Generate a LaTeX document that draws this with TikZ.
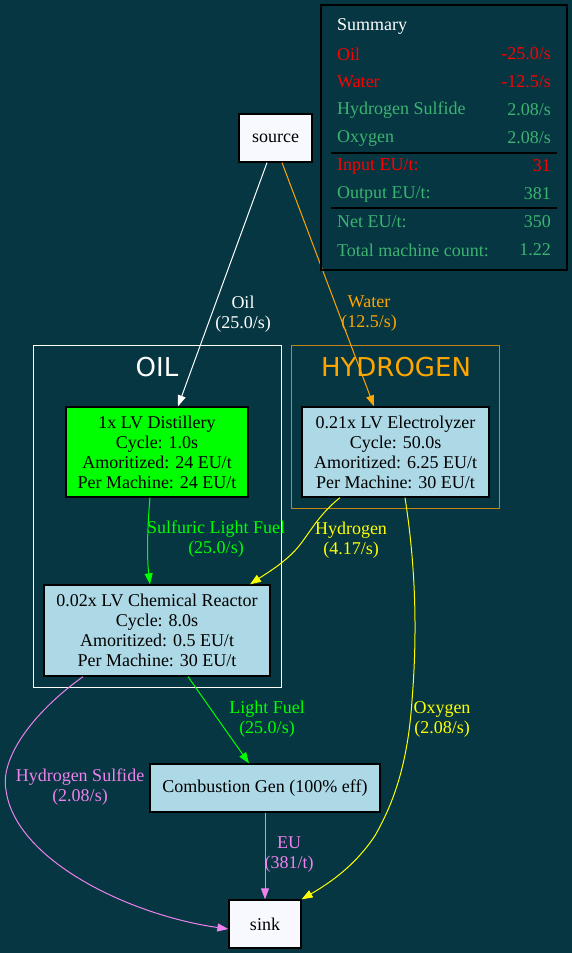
\documentclass[tikz,border=0pt]{standalone}
\usepackage{fontspec}
\setmainfont{Liberation Serif}
\newfontfamily\clusterfont{DejaVu Sans}
\usetikzlibrary{arrows.meta}
\definecolor{bgc}{RGB}{5,54,65}
\definecolor{lblue}{HTML}{ADD8E6}
\definecolor{ghost}{HTML}{F8F8FF}
\definecolor{fgreen}{HTML}{00FF00}
\definecolor{forange}{HTML}{FFA500}
\definecolor{fyellow}{HTML}{FFFF00}
\definecolor{fviolet}{HTML}{EE82EE}
\definecolor{sgreen}{RGB}{60,179,113}
\definecolor{fred}{HTML}{FF0000}
\definecolor{hborder}{RGB}{196,132,24}
\tikzset{
  txt/.style={font=\fontsize{18}{20}\selectfont, align=center, inner sep=0pt},
  box/.style={txt, draw=black, line width=1.3pt, minimum width=#1},
  flow/.style={line width=1pt, -{Triangle[length=11pt,width=8pt]}},
  elabel/.style={txt},
  sumtxt/.style={font=\fontsize{18}{20}\selectfont, inner sep=0pt},
}
\begin{document}
\begin{tikzpicture}[x=1pt,y=-1pt]
\fill[bgc] (0,0) rectangle (572,953);
\useasboundingbox (0,0) rectangle (572,953);

% clusters
\draw[white, line width=1pt] (33,345) rectangle (281,687);
\node[font=\clusterfont\fontsize{26}{28}\selectfont, text=white, inner sep=0pt] (oillbl) at (157,367) {OIL};
\draw[hborder, line width=1pt] (291,345) rectangle (499,508);
\node[font=\clusterfont\fontsize{26}{28}\selectfont, text=forange, inner sep=0pt] (hylbl) at (396,367) {HYDROGEN};

% nodes
\node[box=73pt, minimum height=48pt, fill=ghost] (src) at (275.5,138) {source};
\node[box=182pt, minimum height=90pt, fill=fgreen] (dist) at (157,452) {1x LV Distillery\\Cycle: 1.0s\\Amoritized: 24 EU/t\\Per Machine: 24 EU/t};
\node[box=187pt, minimum height=90pt, fill=lblue] (elec) at (395.5,452) {0.21x LV Electrolyzer\\Cycle: 50.0s\\Amoritized: 6.25 EU/t\\Per Machine: 30 EU/t};
\node[box=226pt, minimum height=91pt, fill=lblue] (chem) at (157,630.5) {0.02x LV Chemical Reactor\\Cycle: 8.0s\\Amoritized: 0.5 EU/t\\Per Machine: 30 EU/t};
\node[box=230pt, minimum height=48pt, fill=lblue] (comb) at (265,788) {Combustion Gen (100\% eff)};
\node[box=72pt, minimum height=48pt, fill=ghost] (sink) at (265,924) {sink};

% edges
\draw[flow, white] ([xshift=-8.5pt]src.south) -- ([xshift=21pt]dist.north);
\draw[flow, forange] ([xshift=6.5pt]src.south) -- ([xshift=-21.5pt]elec.north);
\draw[flow, fgreen] ([xshift=-7pt]dist.south) .. controls ++(-3,33) and ++(-3,-25) .. ([xshift=-7pt]chem.north);
\draw[flow, fyellow] ([xshift=-55.5pt]elec.south) .. controls ++(-25,20) and ++(15,-15) .. ++(-47,55) coordinate (hmid) .. controls ++(-13,13) and ++(15,-10) .. ([xshift=93pt]chem.north);
\draw[flow, fyellow] ([xshift=9.5pt]elec.south) .. controls ++(13,83) and ++(4,-50) .. ++(7,203) coordinate (omid1) .. controls ++(-4,60) and ++(20,-35) .. ++(-37,135) coordinate (omid2) .. controls ++(-20,30) and ++(29,-17) .. (sink.north east);
\draw[flow, fgreen] ([xshift=31pt]chem.south) -- ([xshift=-16pt]comb.north);
\draw[flow, fviolet] ([xshift=-74pt]chem.south) .. controls ++(-53,38) and ++(-6,-30) .. (6,790) coordinate (smid) .. controls ++(9,70) and ++(-99,-14) .. ([yshift=-5pt]sink.west);
\draw[flow, fviolet] (comb.south) -- (sink.north);

% edge labels
\node[elabel, text=white] (loil) at (243,314) {Oil\\(25.0/s)};
\node[elabel, text=forange] (lwater) at (369,314) {Water\\(12.5/s)};
\node[elabel, text=fgreen] (lslf) at (216,539.5) {Sulfuric Light Fuel\\(25.0/s)};
\node[elabel, text=fyellow] (lhyd) at (351,540) {Hydrogen\\(4.17/s)};
\node[elabel, text=fgreen] (llf) at (267,719) {Light Fuel\\(25.0/s)};
\node[elabel, text=fyellow] (loxy) at (442,719) {Oxygen\\(2.08/s)};
\node[elabel, text=fviolet] (lhs) at (80,787) {Hydrogen Sulfide\\(2.08/s)};
\node[elabel, text=fviolet] (leu) at (289,855) {EU\\(381/t)};

% summary
\draw[black, line width=1.3pt] (321,5) rectangle (567,270);
\node[sumtxt, text=white, anchor=west] (st) at (337,26) {Summary};
\node[sumtxt, text=fred, anchor=west] (s1l) at (337,54) {Oil};
\node[sumtxt, text=fred, anchor=east] (s1r) at (551,54) {-25.0/s};
\node[sumtxt, text=fred, anchor=west] (s2l) at (337,82) {Water};
\node[sumtxt, text=fred, anchor=east] (s2r) at (551,82) {-12.5/s};
\node[sumtxt, text=sgreen, anchor=west] (s3l) at (337,110) {Hydrogen Sulfide};
\node[sumtxt, text=sgreen, anchor=east] (s3r) at (551,110) {2.08/s};
\node[sumtxt, text=sgreen, anchor=west] (s4l) at (337,138) {Oxygen};
\node[sumtxt, text=sgreen, anchor=east] (s4r) at (551,138) {2.08/s};
\draw[black, line width=1.3pt] (331,153) -- (557,153);
\node[sumtxt, text=fred, anchor=west] (s5l) at (337,166) {Input EU/t:};
\node[sumtxt, text=fred, anchor=east] (s5r) at (551,166) {31};
\node[sumtxt, text=sgreen, anchor=west] (s6l) at (337,194) {Output EU/t:};
\node[sumtxt, text=sgreen, anchor=east] (s6r) at (551,194) {381};
\draw[black, line width=1.3pt] (331,208) -- (557,208);
\node[sumtxt, text=sgreen, anchor=west] (s7l) at (337,222) {Net EU/t:};
\node[sumtxt, text=sgreen, anchor=east] (s7r) at (551,222) {350};
\node[sumtxt, text=sgreen, anchor=west] (s8l) at (337,250) {Total machine count:};
\node[sumtxt, text=sgreen, anchor=east] (s8r) at (551,250) {1.22};
\end{tikzpicture}
\end{document}
